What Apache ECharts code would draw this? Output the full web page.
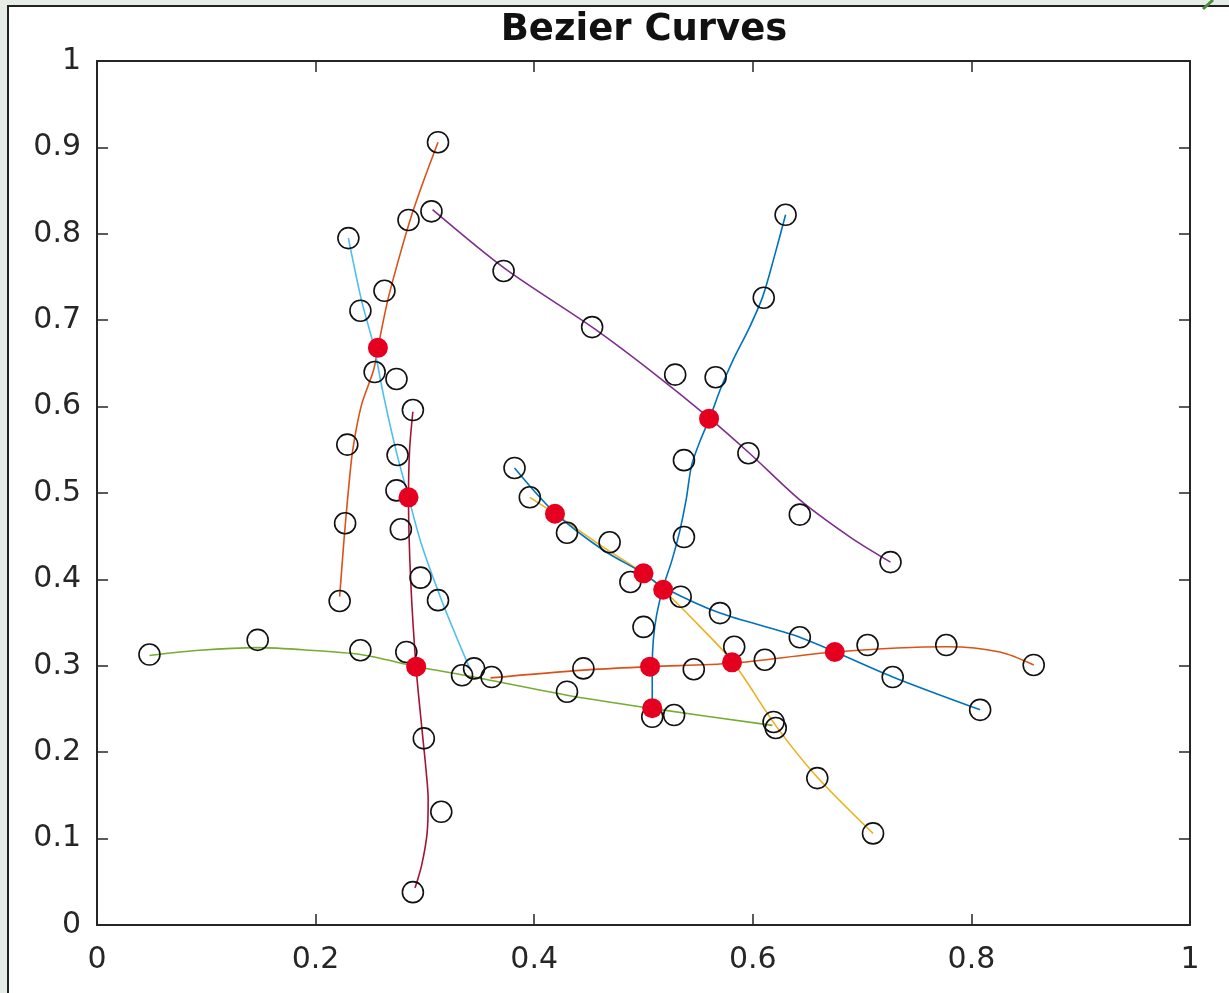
<!DOCTYPE html>
<html>
<head>
<meta charset="utf-8">
<title>Bezier Curves</title>
<script src="https://cdn.jsdelivr.net/npm/echarts@6/dist/echarts.min.js"></script>
<style>
  html, body { margin: 0; padding: 0; background: #e6ede6; }
  #frame { position: absolute; left: 7px; top: 5px; width: 1222px; height: 988px;
           background: #fff; border-left: 2px solid #222; border-top: 2px solid #222; }
  #main { position: absolute; left: 0; top: 0; width: 1229px; height: 993px; }
</style>
</head>
<body>
<div id="frame"></div>
<div id="main"></div>
<script>
// curve paths, [x, y]
var curveBlue = [[0.630,0.822],[0.620,0.775],[0.609,0.727],[0.596,0.689],[0.582,0.654],[0.570,0.619],[0.561,0.588],[0.552,0.561],[0.544,0.532],[0.539,0.492],[0.533,0.455],[0.526,0.422],[0.518,0.391],[0.512,0.359],[0.509,0.330],[0.508,0.299],[0.508,0.249]];
var curveOrangeLeft = [[0.222,0.380],[0.226,0.446],[0.230,0.503],[0.234,0.550],[0.242,0.602],[0.253,0.642],[0.257,0.668],[0.266,0.723],[0.277,0.775],[0.288,0.822],[0.299,0.862],[0.312,0.906]];
var curveYellow = [[0.396,0.495],[0.419,0.476],[0.460,0.440],[0.500,0.407],[0.518,0.388],[0.552,0.345],[0.582,0.304],[0.622,0.229],[0.659,0.171],[0.710,0.106]];
var curvePurple = [[0.307,0.828],[0.373,0.760],[0.453,0.692],[0.506,0.642],[0.560,0.587],[0.597,0.546],[0.643,0.492],[0.689,0.449],[0.726,0.420]];
var curveGreen = [[0.048,0.312],[0.094,0.318],[0.147,0.321],[0.195,0.318],[0.241,0.313],[0.293,0.299],[0.341,0.288],[0.430,0.266],[0.506,0.251],[0.618,0.231]];
var curveCyan = [[0.230,0.795],[0.242,0.723],[0.253,0.671],[0.263,0.608],[0.274,0.547],[0.285,0.495],[0.297,0.440],[0.314,0.380],[0.328,0.336],[0.341,0.297]];
var curveDarkRed = [[0.289,0.594],[0.286,0.550],[0.285,0.495],[0.287,0.399],[0.292,0.297],[0.298,0.218],[0.301,0.180],[0.303,0.145],[0.302,0.106],[0.297,0.069],[0.291,0.043]];
var curveBlue2 = [[0.382,0.529],[0.419,0.477],[0.463,0.434],[0.500,0.407],[0.518,0.391],[0.570,0.361],[0.643,0.333],[0.728,0.287],[0.808,0.249]];
var curveOrangeRight = [[0.360,0.286],[0.445,0.295],[0.506,0.299],[0.581,0.303],[0.675,0.316],[0.778,0.322],[0.826,0.316],[0.857,0.301]];

// open black circles
var controlPoints = [
  [0.312,0.906],[0.285,0.816],[0.306,0.826],[0.230,0.795],[0.263,0.734],[0.241,0.711],
  [0.372,0.757],[0.453,0.692],[0.630,0.822],[0.610,0.726],[0.529,0.637],[0.566,0.634],
  [0.254,0.640],[0.274,0.632],[0.289,0.596],[0.229,0.556],[0.275,0.544],[0.537,0.538],
  [0.596,0.546],[0.274,0.503],[0.382,0.529],[0.396,0.495],[0.643,0.475],[0.227,0.465],
  [0.278,0.458],[0.430,0.454],[0.469,0.443],[0.537,0.449],[0.488,0.397],[0.726,0.420],
  [0.296,0.402],[0.312,0.376],[0.534,0.380],[0.570,0.361],[0.222,0.375],[0.500,0.345],
  [0.643,0.333],[0.583,0.322],[0.611,0.307],[0.705,0.324],[0.777,0.324],[0.857,0.301],
  [0.048,0.313],[0.147,0.330],[0.241,0.318],[0.283,0.316],[0.334,0.289],[0.345,0.297],
  [0.361,0.287],[0.445,0.297],[0.546,0.296],[0.728,0.287],[0.808,0.249],[0.430,0.270],
  [0.508,0.241],[0.528,0.243],[0.619,0.235],[0.621,0.228],[0.299,0.216],[0.315,0.131],
  [0.659,0.170],[0.710,0.106],[0.289,0.038]
];

// filled red intersections
var intersections = [
  [0.257,0.668],[0.285,0.495],[0.292,0.299],[0.419,0.476],[0.500,0.407],[0.518,0.388],
  [0.560,0.586],[0.506,0.299],[0.508,0.251],[0.581,0.304],[0.675,0.316]
];

var curves = [
  [curveBlue, '#0072bd'],
  [curveOrangeLeft, '#d95319'],
  [curveYellow, '#edb120'],
  [curvePurple, '#7e2f8e'],
  [curveGreen, '#77ac30'],
  [curveCyan, '#4dbeee'],
  [curveDarkRed, '#a2142f'],
  [curveBlue2, '#0072bd'],
  [curveOrangeRight, '#d95319']
];

var chart = echarts.init(document.getElementById('main'), null, { renderer: 'canvas' });

var font = 'DejaVu Sans';
var axisCommon = {
  type: 'value', min: 0, max: 1,
  axisLine: { show: true, onZero: false, lineStyle: { color: '#262626', width: 2 } },
  axisTick: { show: true, inside: true, length: 11, lineStyle: { color: '#262626', width: 1.5 } },
  splitLine: { show: false }
};

var series = [];
curves.forEach(function (c, i) {
  series.push({
    type: 'line', name: 'curve' + i, data: c[0], smooth: 0.3,
    symbol: 'none', lineStyle: { color: c[1], width: 1.6 }, z: 2
  });
});
series.push({
  type: 'scatter', name: 'control', data: controlPoints, symbol: 'circle', symbolSize: 21,
  itemStyle: { color: 'rgba(0,0,0,0)', borderColor: '#111', borderWidth: 1.6, opacity: 1 }, z: 3
});
series.push({
  type: 'scatter', name: 'intersect', data: intersections, symbol: 'circle', symbolSize: 20,
  itemStyle: { color: '#e6001f', opacity: 1 }, z: 4
});

option = {
  backgroundColor: 'transparent',
  animation: false,
  grid: { left: 97, right: 39, top: 61, bottom: 68 },
  xAxis: [
    Object.assign({}, axisCommon, {
      position: 'bottom', interval: 0.2,
      axisLabel: { fontFamily: font, fontSize: 30, color: '#262626', margin: 20 }
    }),
    Object.assign({}, axisCommon, { position: 'top', interval: 0.2, axisLabel: { show: false } })
  ],
  yAxis: [
    Object.assign({}, axisCommon, {
      position: 'left', interval: 0.1,
      axisLabel: { fontFamily: font, fontSize: 30, color: '#262626', margin: 16 }
    }),
    Object.assign({}, axisCommon, { position: 'right', interval: 0.1, axisLabel: { show: false } })
  ],
  graphic: [
    { type: 'text', x: 644, y: 30,
      style: { text: 'Bezier Curves', font: 'bold 37px "DejaVu Sans"', fill: '#111',
               textAlign: 'center', textVerticalAlign: 'middle' } },
    { type: 'line', shape: { x1: 1203, y1: 9, x2: 1213, y2: 0 },
      style: { stroke: '#4c8a3c', lineWidth: 3 } }
  ],
  series: series
};
chart.setOption(option);
</script>
</body>
</html>
